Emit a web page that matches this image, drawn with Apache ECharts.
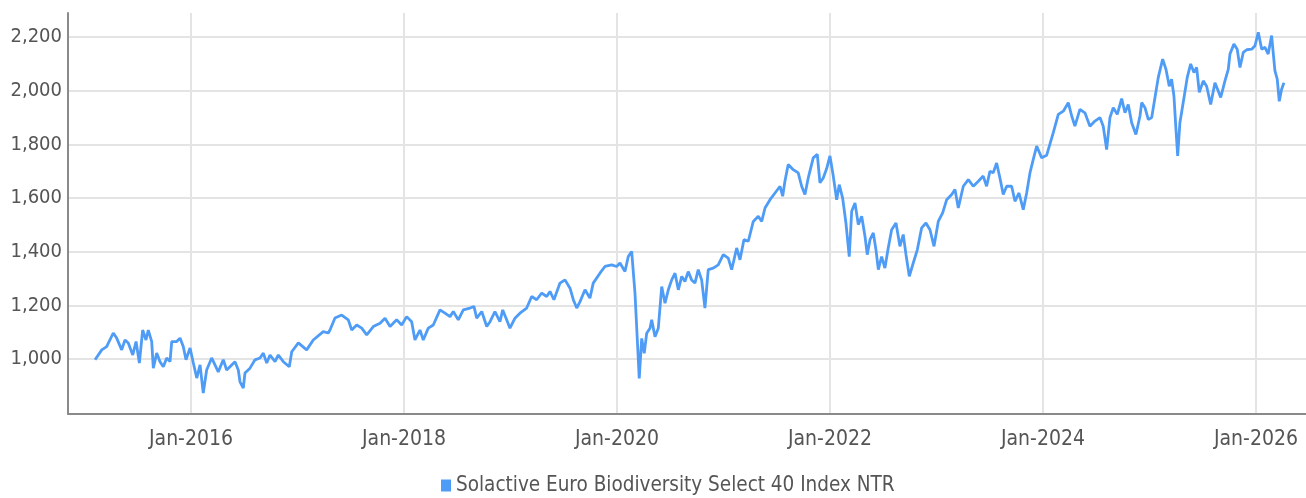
<!DOCTYPE html>
<html>
<head>
<meta charset="utf-8">
<script src="https://cdn.jsdelivr.net/npm/echarts@6/dist/echarts.min.js"></script>
<style>
	html, body { margin: 0; padding: 0; background: #fff; }
	#chart { width: 1306px; height: 498px; }
</style>
</head>
<body>
<div id="chart"></div>
<script>
// decimal years of the sampled points
var years = [
	2015.099, 2015.162, 2015.208, 2015.270, 2015.302, 2015.349, 2015.380, 2015.411, 2015.453, 2015.484,
	2015.515, 2015.546, 2015.577, 2015.599, 2015.631, 2015.646, 2015.678, 2015.709, 2015.740, 2015.772,
	2015.803, 2015.819, 2015.866, 2015.897, 2015.928, 2015.953, 2015.991, 2016.022, 2016.054, 2016.085,
	2016.115, 2016.147, 2016.194, 2016.225, 2016.256, 2016.303, 2016.335, 2016.382, 2016.413, 2016.444,
	2016.460, 2016.491, 2016.507, 2016.554, 2016.601, 2016.648, 2016.679, 2016.711, 2016.742, 2016.789,
	2016.820, 2016.867, 2016.923, 2016.946, 2017.008, 2017.086, 2017.148, 2017.242, 2017.289, 2017.305,
	2017.352, 2017.415, 2017.477, 2017.509, 2017.556, 2017.603, 2017.650, 2017.712, 2017.775, 2017.822,
	2017.869, 2017.931, 2017.978, 2018.025, 2018.072, 2018.103, 2018.150, 2018.181, 2018.228, 2018.275,
	2018.338, 2018.385, 2018.432, 2018.463, 2018.510, 2018.557, 2018.620, 2018.657, 2018.683, 2018.730,
	2018.777, 2018.808, 2018.854, 2018.901, 2018.927, 2018.964, 2018.995, 2019.042, 2019.089, 2019.152,
	2019.199, 2019.246, 2019.293, 2019.340, 2019.371, 2019.408, 2019.465, 2019.512, 2019.559, 2019.590,
	2019.622, 2019.653, 2019.700, 2019.746, 2019.777, 2019.840, 2019.887, 2019.950, 2019.997, 2020.028,
	2020.075, 2020.106, 2020.138, 2020.169, 2020.191, 2020.209, 2020.232, 2020.256, 2020.279, 2020.310,
	2020.326, 2020.357, 2020.388, 2020.420, 2020.451, 2020.482, 2020.514, 2020.545, 2020.576, 2020.608,
	2020.638, 2020.669, 2020.701, 2020.732, 2020.763, 2020.795, 2020.826, 2020.857, 2020.904, 2020.951,
	2020.998, 2021.045, 2021.077, 2021.124, 2021.155, 2021.192, 2021.233, 2021.280, 2021.327, 2021.359,
	2021.390, 2021.437, 2021.484, 2021.531, 2021.556, 2021.577, 2021.608, 2021.655, 2021.702, 2021.734,
	2021.765, 2021.796, 2021.843, 2021.881, 2021.906, 2021.937, 2021.969, 2022.000, 2022.031, 2022.063,
	2022.087, 2022.119, 2022.150, 2022.181, 2022.204, 2022.235, 2022.266, 2022.298, 2022.329, 2022.350,
	2022.376, 2022.407, 2022.432, 2022.454, 2022.485, 2022.516, 2022.547, 2022.579, 2022.620, 2022.657,
	2022.688, 2022.714, 2022.745, 2022.782, 2022.820, 2022.861, 2022.901, 2022.939, 2022.977, 2023.017,
	2023.058, 2023.096, 2023.143, 2023.174, 2023.205, 2023.252, 2023.299, 2023.346, 2023.393, 2023.439,
	2023.471, 2023.502, 2023.533, 2023.565, 2023.596, 2023.627, 2023.659, 2023.706, 2023.737, 2023.775,
	2023.815, 2023.847, 2023.878, 2023.909, 2023.941, 2023.988, 2024.035, 2024.097, 2024.144, 2024.191,
	2024.238, 2024.270, 2024.300, 2024.347, 2024.394, 2024.441, 2024.488, 2024.535, 2024.566, 2024.598,
	2024.629, 2024.660, 2024.698, 2024.739, 2024.770, 2024.801, 2024.833, 2024.873, 2024.911, 2024.927,
	2024.958, 2024.989, 2025.021, 2025.052, 2025.083, 2025.124, 2025.155, 2025.186, 2025.208, 2025.230,
	2025.249, 2025.265, 2025.286, 2025.317, 2025.355, 2025.387, 2025.418, 2025.443, 2025.468, 2025.505,
	2025.537, 2025.575, 2025.615, 2025.646, 2025.669, 2025.709, 2025.740, 2025.756, 2025.793, 2025.824,
	2025.850, 2025.881, 2025.913, 2025.960, 2025.991, 2026.022, 2026.054, 2026.085, 2026.115, 2026.147,
	2026.178, 2026.200, 2026.219, 2026.241, 2026.263
];
var values = [
	997, 1034, 1046, 1097, 1078, 1034, 1071, 1060, 1015, 1065,
	985, 1108, 1071, 1108, 1065, 966, 1022, 990, 971, 1004,
	990, 1065, 1065, 1078, 1046, 997, 1041, 985, 929, 978,
	873, 959, 1004, 978, 952, 997, 959, 978, 990, 959,
	915, 892, 948, 966, 997, 1004, 1022, 985, 1015, 990,
	1015, 990, 971, 1027, 1060, 1034, 1071, 1102, 1097, 1108,
	1153, 1164, 1146, 1108, 1127, 1115, 1090, 1121, 1133, 1152,
	1121, 1146, 1127, 1158, 1139, 1071, 1108, 1071, 1115, 1127,
	1183, 1171, 1158, 1177, 1146, 1183, 1190, 1196, 1152, 1177,
	1121, 1139, 1177, 1139, 1183, 1146, 1115, 1152, 1171, 1190,
	1233, 1221, 1246, 1233, 1252, 1221, 1283, 1295, 1264, 1221,
	1190, 1214, 1258, 1227, 1283, 1320, 1345, 1351, 1345, 1358,
	1326, 1382, 1401, 1246, 1071, 928, 1077, 1021, 1096, 1115,
	1146, 1083, 1115, 1270, 1208, 1258, 1295, 1320, 1258, 1308,
	1289, 1326, 1295, 1283, 1333, 1295, 1190, 1333, 1339, 1351,
	1389, 1376, 1333, 1414, 1370, 1445, 1439, 1513, 1532, 1513,
	1563, 1594, 1619, 1644, 1607, 1663, 1725, 1706, 1694, 1644,
	1613, 1675, 1750, 1763, 1657, 1675, 1710, 1757, 1682, 1594,
	1650, 1600, 1507, 1382, 1551, 1582, 1501, 1532, 1457, 1389,
	1445, 1470, 1407, 1333, 1382, 1339, 1414, 1482, 1507, 1420,
	1464, 1389, 1308, 1358, 1407, 1489, 1507, 1482, 1420, 1513,
	1545, 1594, 1613, 1632, 1563, 1644, 1669, 1644, 1663, 1682,
	1644, 1700, 1694, 1731, 1675, 1613, 1644, 1644, 1588, 1619,
	1557, 1619, 1694, 1744, 1794, 1750, 1760, 1844, 1912, 1924,
	1956, 1906, 1868, 1931, 1918, 1868, 1887, 1900, 1868, 1781,
	1900, 1937, 1912, 1971, 1918, 1949, 1881, 1837, 1906, 1956,
	1937, 1893, 1900, 1975, 2050, 2118, 2080, 2017, 2043, 1980,
	1856, 1757, 1881, 1956, 2050, 2100, 2068, 2087, 1994, 2037,
	2017, 1949, 2030, 1999, 1975, 2037, 2080, 2137, 2174, 2155,
	2087, 2143, 2153, 2155, 2168, 2218, 2155, 2162, 2137, 2206,
	2075, 2043, 1961, 2006, 2030
];
var xTicks = [2016, 2018, 2020, 2022, 2024, 2026];
var yTicks = [1000, 1200, 1400, 1600, 1800, 2000, 2200];
var seriesName = 'Solactive Euro Biodiversity Select 40 Index NTR';

var fontFamily = "'Liberation Sans Narrow', 'DejaVu Sans Condensed', Roboto, sans-serif";

var lineData = years.map(function (y, i) {
	return [y, values[i]];
});

var chart = echarts.init(document.getElementById('chart'));
var option = {
	animation : false,
	textStyle : {
		fontFamily : fontFamily
	},
	grid : {
		left : 68,
		right : 0,
		top : 13,
		bottom : 84,
		containLabel : false
	},
	legend : {
		top : 470,
		left : 436,
		icon : 'rect',
		itemWidth : 10,
		itemHeight : 12,
		textStyle : {
			fontSize : 20.5,
			color : '#555',
			fontFamily : fontFamily
		},
		data : [ seriesName ]
	},
	xAxis : {
		type : 'value',
		min : 2014.845,
		max : 2026.47,
		axisLine : {
			lineStyle : { color : '#8a8a8a', width : 2 }
		},
		axisTick : {
			show : false,
			customValues : xTicks
		},
		axisLabel : {
			customValues : xTicks,
			margin : 15,
			fontSize : 21,
			color : '#555',
			formatter : function (v) {
				return 'Jan-' + Math.round(v);
			}
		},
		splitLine : {
			show : true,
			lineStyle : { color : '#e4e4e4', width : 2 }
		}
	},
	yAxis : {
		type : 'value',
		min : 795,
		max : 2290,
		axisLine : {
			show : true,
			lineStyle : { color : '#8a8a8a', width : 2 }
		},
		axisTick : {
			show : false,
			customValues : yTicks
		},
		axisLabel : {
			customValues : yTicks,
			margin : 6,
			fontSize : 20,
			color : '#555',
			formatter : function (v) {
				return v.toLocaleString('en-US');
			}
		},
		splitLine : {
			show : true,
			lineStyle : { color : '#e4e4e4', width : 2 }
		}
	},
	series : [ {
		name : seriesName,
		type : 'line',
		data : lineData,
		showSymbol : false,
		symbol : 'none',
		lineStyle : {
			color : '#4f9cf7',
			width : 2.8
		},
		itemStyle : {
			color : '#4f9cf7'
		}
	} ]
};
chart.setOption(option);
</script>
</body>
</html>
